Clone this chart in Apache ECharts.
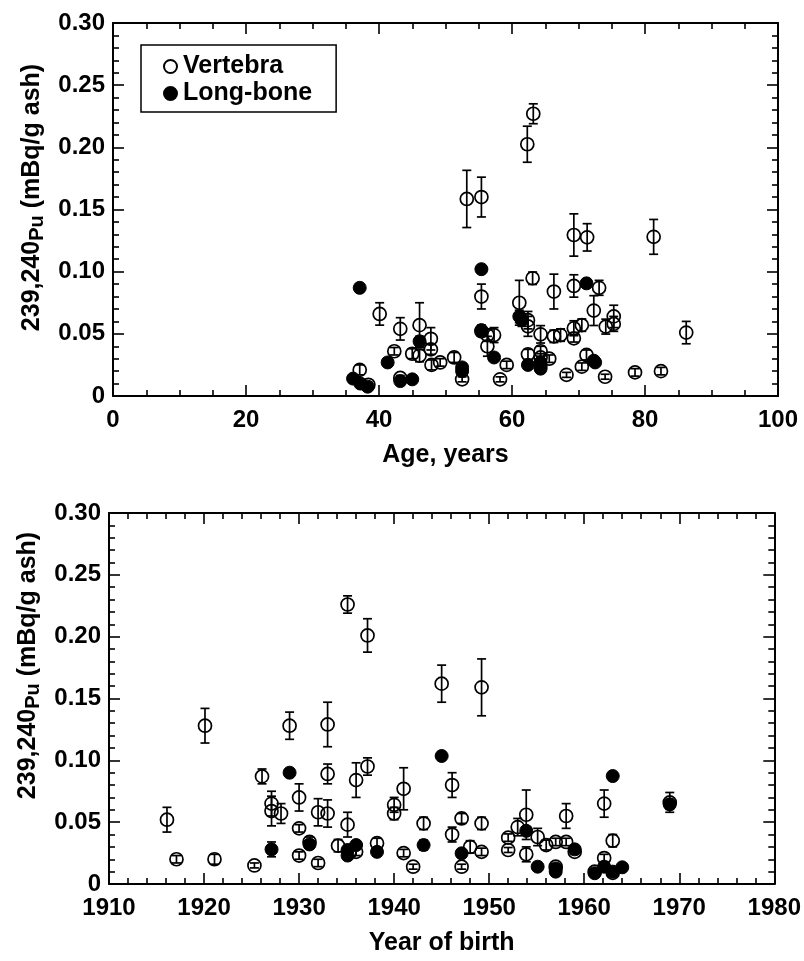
<!DOCTYPE html>
<html>
<head>
<meta charset="utf-8">
<script src="https://cdn.jsdelivr.net/npm/echarts@6/dist/echarts.min.js"></script>
<style>
html,body{margin:0;padding:0;background:#fff;}
#chart{width:804px;height:961px;}
</style>
</head>
<body>
<div id="chart"></div>
<script>
// ---- Top panel: Age, years ----
const topVertAge = [37.1,38.4,40.1,42.3,43.2,43.2,45.0,46.1,46.1,47.8,47.8,47.9,49.2,51.3,52.5,53.2,55.4,55.4,55.4,56.3,56.3,57.3,58.2,59.2,61.1,62.3,62.4,62.4,62.4,63.2,63.1,64.3,64.3,64.3,65.6,66.3,66.3,67.3,68.2,69.3,69.3,69.3,69.3,70.5,70.5,71.3,71.2,72.3,73.1,74.1,74.0,75.3,75.3,78.5,81.3,82.4,86.2];
const topVertPu = [0.021,0.009,0.066,0.036,0.054,0.0145,0.034,0.057,0.0325,0.046,0.0375,0.025,0.027,0.031,0.0134,0.1585,0.160,0.080,0.052,0.049,0.040,0.049,0.0134,0.025,0.075,0.2025,0.061,0.056,0.0335,0.227,0.0947,0.0496,0.036,0.031,0.030,0.084,0.048,0.049,0.017,0.1295,0.0885,0.0545,0.0464,0.057,0.0236,0.1276,0.033,0.0687,0.087,0.0558,0.0155,0.064,0.058,0.019,0.128,0.020,0.051];
const topVertErr = [0.004,0.002,0.009,0.003,0.009,0.002,0.004,0.018,0.005,0.009,0.004,0.004,0.003,0.004,0.002,0.023,0.016,0.010,0.004,0.005,0.008,0.006,0.002,0.003,0.018,0.0145,0.007,0.008,0.004,0.008,0.005,0.007,0.004,0.003,0.003,0.014,0.005,0.005,0.002,0.017,0.009,0.006,0.003,0.005,0.003,0.011,0.004,0.012,0.006,0.006,0.002,0.009,0.006,0.003,0.014,0.003,0.009];
const topLongAge = [36.1,37.1,37.2,38.3,41.3,43.2,45.0,46.1,52.5,52.5,55.4,55.4,57.3,61.1,61.5,62.4,64.3,64.3,64.3,71.2,72.3,72.5];
const topLongPu = [0.014,0.087,0.010,0.0075,0.027,0.012,0.0134,0.044,0.023,0.020,0.102,0.053,0.031,0.064,0.061,0.025,0.027,0.024,0.022,0.0906,0.0284,0.027];
const topLongErr = [0.002,0.002,0.002,0.002,0.003,0.002,0.002,0.004,0.003,0.003,0.003,0.004,0.003,0.005,0.005,0.003,0.003,0.003,0.003,0.003,0.003,0.003];

// ---- Bottom panel: Year of birth ----
const botVertYear = [1916.1,1917.1,1920.1,1921.1,1925.3,1926.1,1927.1,1927.1,1928.1,1929.0,1930.0,1930.0,1930.0,1931.1,1932.0,1932.0,1933.0,1933.0,1933.0,1934.1,1935.1,1935.1,1935.3,1936.0,1936.0,1937.2,1937.2,1938.2,1940.0,1940.0,1941.0,1941.0,1942.0,1943.1,1945.0,1946.1,1946.1,1947.1,1947.1,1948.0,1949.2,1949.2,1949.2,1952.0,1952.0,1953.0,1953.9,1953.9,1955.1,1956.0,1957.0,1957.0,1958.1,1958.1,1959.0,1961.1,1962.1,1962.1,1963.0,1963.0,1969.0];
const botVertPu = [0.052,0.020,0.128,0.020,0.015,0.087,0.065,0.059,0.057,0.128,0.070,0.045,0.023,0.034,0.017,0.058,0.129,0.089,0.057,0.031,0.226,0.048,0.025,0.084,0.026,0.201,0.095,0.033,0.064,0.057,0.077,0.025,0.014,0.049,0.162,0.080,0.040,0.053,0.014,0.030,0.159,0.049,0.026,0.0375,0.0275,0.046,0.056,0.024,0.038,0.0315,0.034,0.014,0.055,0.034,0.026,0.010,0.065,0.021,0.035,0.009,0.066];
const botVertErr = [0.010,0.003,0.014,0.004,0.002,0.006,0.010,0.012,0.008,0.011,0.011,0.003,0.003,0.004,0.003,0.011,0.018,0.008,0.011,0.005,0.007,0.010,0.003,0.014,0.003,0.0135,0.007,0.004,0.006,0.005,0.017,0.003,0.002,0.005,0.015,0.010,0.006,0.004,0.002,0.005,0.023,0.005,0.003,0.003,0.002,0.007,0.020,0.006,0.007,0.004,0.003,0.002,0.010,0.003,0.002,0.002,0.011,0.003,0.005,0.002,0.008];
const botLongYear = [1927.1,1929.0,1931.1,1935.1,1935.1,1936.0,1938.2,1943.1,1945.0,1947.1,1953.9,1955.1,1957.0,1957.0,1959.0,1961.1,1962.1,1963.0,1963.0,1964.0,1969.0];
const botLongPu = [0.028,0.090,0.032,0.0275,0.023,0.0315,0.026,0.0315,0.1035,0.0248,0.043,0.014,0.0126,0.010,0.028,0.0087,0.014,0.0873,0.010,0.0135,0.0644];
const botLongErr = [0.006,0.003,0.003,0.003,0.003,0.003,0.003,0.004,0.003,0.003,0.003,0.002,0.002,0.002,0.003,0.002,0.002,0.002,0.002,0.002,0.004];

const seriesNames = ['Vertebra', 'Long-bone'];
const xNameTop = 'Age, years';
const xNameBot = 'Year of birth';

const FONT = 'Liberation Sans, Arial, Helvetica, sans-serif';

function pts(xs, ys) { return xs.map((x, i) => [x, ys[i]]); }
function errs(xs, ys, es) { return xs.map((x, i) => [x, ys[i], es[i]]); }

function errRender(params, api) {
  const x = api.value(0), y = api.value(1), e = api.value(2);
  const t = api.coord([x, y + e]);
  const b = api.coord([x, y - e]);
  const hw = 4.5;
  const style = { stroke: '#000', lineWidth: 1.7, fill: null };
  return { type: 'group', children: [
    { type: 'line', shape: { x1: t[0], y1: t[1], x2: b[0], y2: b[1] }, style },
    { type: 'line', shape: { x1: t[0] - hw, y1: t[1], x2: t[0] + hw, y2: t[1] }, style },
    { type: 'line', shape: { x1: b[0] - hw, y1: b[1], x2: b[0] + hw, y2: b[1] }, style }
  ]};
}

const labelStyle = { fontFamily: FONT, fontSize: 24, fontWeight: 'bold', color: '#000' };
const lineStyle = { color: '#000', width: 2 };

function xAxes(gridIndex, min, max, interval, minorSplit, name) {
  return [
    { gridIndex, type: 'value', position: 'bottom', min, max, interval,
      axisLine: { show: true, onZero: false, lineStyle },
      axisTick: { show: true, inside: true, length: 11, lineStyle: { color: '#000', width: 1.6 } },
      minorTick: { show: true, splitNumber: minorSplit, length: 6, lineStyle: { color: '#000', width: 1.6 } },
      splitLine: { show: false }, minorSplitLine: { show: false },
      axisLabel: Object.assign({ margin: 12, formatter: v => String(v) }, labelStyle),
      name, nameLocation: 'middle', nameGap: 47,
      nameTextStyle: { fontFamily: FONT, fontSize: 25, fontWeight: 'bold', color: '#000' } },
    { gridIndex, type: 'value', position: 'top', min, max, interval,
      axisLine: { show: true, onZero: false, lineStyle },
      axisTick: { show: true, inside: true, length: 11, lineStyle: { color: '#000', width: 1.6 } },
      minorTick: { show: true, splitNumber: minorSplit, length: 6, lineStyle: { color: '#000', width: 1.6 } },
      splitLine: { show: false }, axisLabel: { show: false } }
  ];
}

function yAxes(gridIndex, namePad) {
  return [
    { gridIndex, type: 'value', position: 'left', min: 0, max: 0.3, interval: 0.05,
      axisLine: { show: true, onZero: false, lineStyle },
      axisTick: { show: true, inside: true, length: 11, lineStyle: { color: '#000', width: 1.6 } },
      minorTick: { show: true, splitNumber: 5, length: 6, lineStyle: { color: '#000', width: 1.6 } },
      splitLine: { show: false },
      axisLabel: Object.assign({ margin: 8, formatter: v => v === 0 ? '0' : v.toFixed(2) }, labelStyle),
      name: '{a|239,240}{b|Pu}{a| (mBq/g ash)}', nameLocation: 'middle', nameGap: 66, nameRotate: 90,
      nameTextStyle: {
        padding: [0, 0, 0, namePad],
        rich: {
          a: { fontFamily: FONT, fontSize: 25, fontWeight: 'bold', color: '#000' },
          b: { fontFamily: FONT, fontSize: 20, fontWeight: 'bold', color: '#000', padding: [10, 0, 0, 0] }
        }
      } },
    { gridIndex, type: 'value', position: 'right', min: 0, max: 0.3, interval: 0.05,
      axisLine: { show: true, onZero: false, lineStyle },
      axisTick: { show: true, inside: true, length: 11, lineStyle: { color: '#000', width: 1.6 } },
      minorTick: { show: true, splitNumber: 5, length: 6, lineStyle: { color: '#000', width: 1.6 } },
      splitLine: { show: false }, axisLabel: { show: false } }
  ];
}

const vertStyle = { color: 'rgba(255,255,255,0)', borderColor: '#000', borderWidth: 1.7, opacity: 1 };
const longStyle = { color: '#000', borderColor: '#000', borderWidth: 1, opacity: 1 };

function panelSeries(xi, yi, vX, vY, vE, lX, lY, lE) {
  return [
    { type: 'custom', name: 'errV' + xi, xAxisIndex: xi, yAxisIndex: yi, renderItem: errRender,
      data: errs(vX, vY, vE), encode: { x: 0, y: 1 }, z: 1, silent: true },
    { type: 'custom', name: 'errL' + xi, xAxisIndex: xi, yAxisIndex: yi, renderItem: errRender,
      data: errs(lX, lY, lE), encode: { x: 0, y: 1 }, z: 1, silent: true },
    { type: 'scatter', name: seriesNames[1], xAxisIndex: xi, yAxisIndex: yi, symbol: 'circle', symbolSize: 13,
      itemStyle: longStyle, data: pts(lX, lY), z: 2 },
    { type: 'scatter', name: seriesNames[0], xAxisIndex: xi, yAxisIndex: yi, symbol: 'circle', symbolSize: 13,
      itemStyle: vertStyle, data: pts(vX, vY), z: 3 }
  ];
}

const chart = echarts.init(document.getElementById('chart'), null, { renderer: 'canvas' });
chart.setOption({
  animation: false,
  backgroundColor: '#fff',
  textStyle: { fontFamily: FONT },
  grid: [
    { left: 113, top: 23, width: 665, height: 373 },
    { left: 109, top: 513, width: 669, height: 371 }
  ],
  xAxis: [].concat(xAxes(0, 0, 100, 20, 4, xNameTop), xAxes(1, 1910, 1980, 10, 5, xNameBot)),
  yAxis: [].concat(yAxes(0, 24), yAxes(1, 66)),
  legend: {
    data: seriesNames,
    orient: 'vertical', left: 141, top: 45,
    padding: [9, 24, 6, 22], itemGap: 2, itemWidth: 13, itemHeight: 13,
    backgroundColor: '#fff', borderColor: '#000', borderWidth: 1.5,
    textStyle: { fontFamily: FONT, fontSize: 25, fontWeight: 'bold', color: '#000', padding: [0, 0, 0, 1] },
    selectedMode: false
  },
  series: [].concat(
    panelSeries(0, 0, topVertAge, topVertPu, topVertErr, topLongAge, topLongPu, topLongErr),
    panelSeries(2, 2, botVertYear, botVertPu, botVertErr, botLongYear, botLongPu, botLongErr)
  )
});
</script>
</body>
</html>
